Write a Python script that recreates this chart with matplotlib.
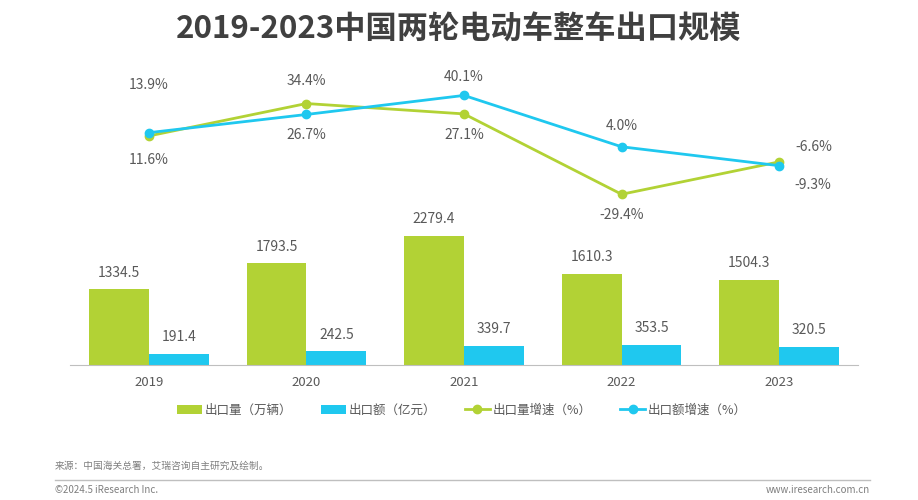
import numpy as np
import matplotlib.pyplot as plt

plt.rcParams['font.family'] = ['Noto Sans CJK SC', 'DejaVu Sans']

# data
years = ['2019', '2020', '2021', '2022', '2023']
volume = [1334.5, 1793.5, 2279.4, 1610.3, 1504.3]      # 出口量（万辆）
value = [191.4, 242.5, 339.7, 353.5, 320.5]            # 出口额（亿元）
volume_growth = [11.6, 34.4, 27.1, -29.4, -6.6]        # 出口量增速（%）
value_growth = [13.9, 26.7, 40.1, 4.0, -9.3]           # 出口额增速（%）

green = '#B2D235'
blue = '#1FC8EF'
txt = '#595959'

fig = plt.figure(figsize=(9.18, 5.0), dpi=100)

# bar axes
ax = fig.add_axes([70 / 918, 1 - 365 / 500, 788 / 918, 150 / 500])
x = np.arange(len(years))
w = 0.38
ax.bar(x - w / 2, volume, width=w, color=green, label='出口量（万辆）')
ax.bar(x + w / 2, value, width=w, color=blue, label='出口额（亿元）')
for i in range(len(years)):
    ax.annotate(f'{volume[i]:.1f}', (x[i] - w / 2, volume[i]), xytext=(0, 7),
                textcoords='offset points', ha='center', va='bottom', fontsize=10, color=txt)
    ax.annotate(f'{value[i]:.1f}', (x[i] + w / 2, value[i]), xytext=(0, 7),
                textcoords='offset points', ha='center', va='bottom', fontsize=10, color=txt)
ax.set_xlim(-0.5, len(years) - 0.5)
ax.set_ylim(0, 2650)
ax.set_xticks(x)
ax.set_xticklabels(years, fontsize=9.5, color=txt)
ax.tick_params(axis='x', length=0, pad=8)
ax.set_yticks([])
for s in ['top', 'right', 'left']:
    ax.spines[s].set_visible(False)
ax.spines['bottom'].set_color('#BFBFBF')

# line axes
lx = fig.add_axes([70 / 918, 1 - 225 / 500, 788 / 918, 165 / 500])
lx.plot(x, volume_growth, color=green, lw=2, marker='o', ms=6, label='出口量增速（%）')
lx.plot(x, value_growth, color=blue, lw=2, marker='o', ms=6, label='出口额增速（%）')
lx.set_xlim(-0.5, len(years) - 0.5)
lx.set_ylim(-51, 65)
lx.axis('off')

# growth labels: value, point value, offset (points)
labels = [
    (value_growth[0], value_growth[0], (0, 34)),
    (volume_growth[0], volume_growth[0], (0, -17)),
    (volume_growth[1], volume_growth[1], (0, 16)),
    (value_growth[1], value_growth[1], (0, -15)),
    (value_growth[2], value_growth[2], (0, 13)),
    (volume_growth[2], volume_growth[2], (0, -15)),
    (value_growth[3], value_growth[3], (0, 15)),
    (volume_growth[3], volume_growth[3], (0, -15)),
    (volume_growth[4], volume_growth[4], (25, 11)),
    (value_growth[4], value_growth[4], (24, -14)),
]
idx = [0, 0, 1, 1, 2, 2, 3, 3, 4, 4]
for (v, yv, off), i in zip(labels, idx):
    lx.annotate(f'{v:.1f}%', (x[i], yv), xytext=off, textcoords='offset points',
                ha='center', va='center', fontsize=10, color=txt)

# legend
h1, l1 = ax.get_legend_handles_labels()
h2, l2 = lx.get_legend_handles_labels()
fig.legend(h1 + h2, l1 + l2, loc='center', bbox_to_anchor=(462 / 918, 1 - 410 / 500), ncol=4,
           frameon=False, fontsize=9, handlelength=2.0, handletextpad=0.2,
           columnspacing=2.3, labelcolor=txt)

# title
fig.text(0.5, 1 - 30 / 500, '2019-2023中国两轮电动车整车出口规模', ha='center', va='center',
         fontsize=22.5, fontweight='bold', color='#404040')

# footer
fig.text(55 / 918, 1 - 466 / 500, '来源：中国海关总署，艾瑞咨询自主研究及绘制。', fontsize=7,
         color='#7F7F7F', va='center')
fig.add_artist(plt.Line2D([55 / 918, 870 / 918], [1 - 480 / 500, 1 - 480 / 500],
                          color='#BFBFBF', lw=1))
fig.text(55 / 918, 1 - 490 / 500, '©2024.5 iResearch Inc.', fontsize=7, color='#7F7F7F',
         va='center')
fig.text(870 / 918, 1 - 490 / 500, 'www.iresearch.com.cn', fontsize=7, color='#7F7F7F',
         va='center', ha='right')

fig.savefig('out.png', dpi=100)
